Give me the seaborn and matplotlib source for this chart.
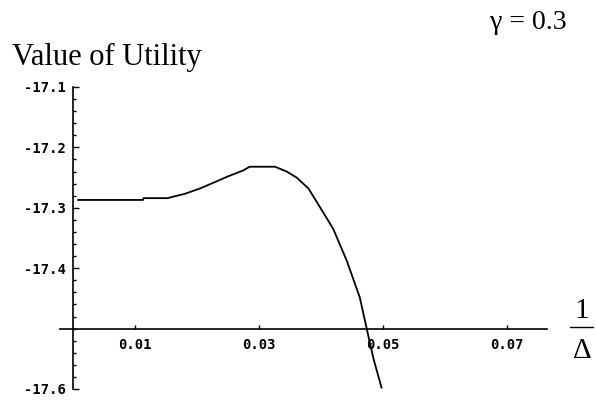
import numpy as np
import pandas as pd
import matplotlib
matplotlib.use("Agg")
import matplotlib.pyplot as plt
from matplotlib.ticker import MultipleLocator, FixedLocator
import seaborn as sns

# valeurs
inv_delta = [0.0008, 0.005, 0.0113, 0.0114, 0.0153, 0.016, 0.018, 0.0205, 0.023,
             0.025, 0.0275, 0.0285, 0.0326, 0.0345, 0.0361, 0.038, 0.0395,
             0.042, 0.0442, 0.0463, 0.0474, 0.0485, 0.0498]
utility = [-17.287, -17.287, -17.287, -17.284, -17.284, -17.282, -17.277, -17.268,
           -17.257, -17.248, -17.238, -17.232, -17.232, -17.240, -17.250,
           -17.268, -17.293, -17.335, -17.388, -17.449, -17.500, -17.550,
           -17.598]
y_ticks = [-17.1, -17.2, -17.3, -17.4, -17.6]
x_ticks = [0.01, 0.03, 0.05, 0.07]

df = pd.DataFrame({"x": inv_delta, "y": utility})

sns.set_style("white")
plt.rcParams["font.family"] = ["DejaVu Sans"]
plt.rcParams["text.color"] = "black"
plt.rcParams["xtick.color"] = "black"
plt.rcParams["ytick.color"] = "black"

fig = plt.figure(figsize=(5.96, 4.03), dpi=100)
ax = fig.add_axes([60 / 596, (403 - 389) / 403, 487 / 596, 302 / 403])

sns.lineplot(data=df, x="x", y="y", ax=ax, color="black", linewidth=1.3,
             sort=False)

ax.set_xlim(-0.0021, 0.0765)
ax.set_ylim(-17.6, -17.1)

# axes a la Mathematica : croisement en (0, -17.5)
for side in ["top", "right"]:
    ax.spines[side].set_visible(False)
ax.spines["left"].set_position(("data", 0))
ax.spines["bottom"].set_position(("data", -17.5))
for side in ["left", "bottom"]:
    ax.spines[side].set_linewidth(1.2)
    ax.spines[side].set_color("black")

ax.yaxis.set_major_locator(FixedLocator(y_ticks))
ax.yaxis.set_minor_locator(MultipleLocator(0.02))
ax.xaxis.set_major_locator(FixedLocator(x_ticks))
ax.set_yticklabels([f"{v:.1f}" for v in y_ticks])
ax.set_xticklabels([f"{v:.2f}" for v in x_ticks])

ax.tick_params(axis="y", which="major", direction="in", length=4, width=1,
               pad=5, left=True, labelsize=10, colors="black")
ax.tick_params(axis="y", which="minor", direction="in", length=2.5, width=1,
               left=True, colors="black")
ax.tick_params(axis="x", which="major", direction="in", length=3, width=1,
               pad=7, bottom=True, labelsize=10, colors="black")
for lab in ax.get_xticklabels() + ax.get_yticklabels():
    lab.set_family("DejaVu Sans Mono")
    lab.set_fontweight("bold")

ax.set_xlabel("")
ax.set_ylabel("")

serif = ["Liberation Serif", "DejaVu Serif"]
fig.text(12 / 596, 1 - 65 / 403, "Value of Utility", family=serif,
         fontsize=22, ha="left", va="baseline", color="black")
fig.text(528 / 596, 1 - 29 / 403, "\u03b3 = 0.3", family=serif,
         fontsize=20, ha="center", va="baseline", color="black")
fig.text(582 / 596, 1 - 318 / 403, "1", family=serif, fontsize=21,
         ha="center", va="baseline", color="black")
fig.text(582 / 596, 1 - 358 / 403, "\u0394", family=serif, fontsize=21,
         ha="center", va="baseline", color="black")
fig.add_artist(plt.Line2D([570 / 596, 593 / 596], [1 - 327 / 403, 1 - 327 / 403],
                          color="black", linewidth=1))

fig.savefig("out.png", dpi=100)
